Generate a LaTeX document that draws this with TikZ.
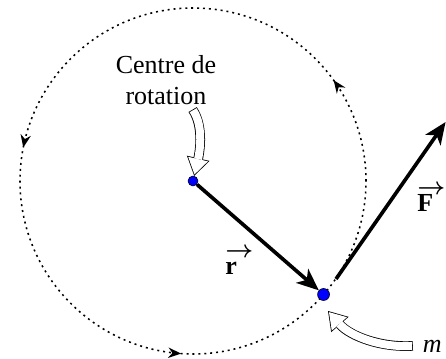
\documentclass[tikz,border=0pt]{standalone}
\usepackage{fontspec}
\setmainfont{Liberation Serif}
\usepackage{tikz}
\usetikzlibrary{arrows.meta, decorations.markings}

\newcommand{\vecbf}[1]{\rlap{\raisebox{0.66em}{\boldmath$\rightarrow$}}\textbf{#1}}

\begin{document}
\begin{tikzpicture}[font=\fontsize{18.5}{22}\selectfont,
    dot/.style={circle, draw=black, line width=0.4pt, fill=blue, inner sep=0pt, minimum size=2.5mm},
    vec/.style={line width=2.6pt, -{Stealth[length=5.5mm, width=4.6mm, inset=1.5mm]}},
    holout/.style={line width=2.4mm, -{Triangle[length=4.5mm, width=5.8mm, line width=0pt]}},
    holin/.style={white, line width=2mm, shorten <=0.2mm, shorten >=0.37mm,
      -{Triangle[length=3.93mm, width=5.07mm, line width=0pt]}},
    orbit/.style={line width=1.1pt, dash pattern=on 1.4pt off 2.8pt},
    orbtip/.tip={Stealth[length=3.2mm, width=2.6mm]}]
  \useasboundingbox (0,0) rectangle (11.15,8.95);
  % trajectoire
  \draw[orbit, postaction={decorate}, decoration={markings,
      mark=at position 0.099 with {\arrow{orbtip}},
      mark=at position 0.469 with {\arrow{orbtip}},
      mark=at position 0.739 with {\arrow{orbtip}}}]
    (4.825,4.425) circle (4.325);
  \node[dot] (ctr) at (4.825,4.425) {};
  \node[dot, minimum size=3mm] (mass) at (8.089,1.588) {};
  \node[align=center] (lbl) at (4.15,6.95) {Centre de\\rotation};
  \node[anchor=base west, inner sep=0pt] (rlbl) at (5.625,2.075) {\vecbf{r}};
  \node[anchor=base west, inner sep=0pt] (Flbl) at (10.425,3.65) {\vecbf{F}};
  \node[anchor=base west, inner ysep=2pt, inner xsep=7pt] (mlbl) at (10.32,0.15) {\textit{m}};
  \coordinate (Fs) at (8.4,1.975);
  \coordinate (Fe) at (11.14,5.9);
  \coordinate (mtip) at (8.2,1.175);
  % vecteurs
  \draw[vec] (ctr) -- (mass);
  \draw[vec] (Fs) -- (Fe);
  % fleches creuses
  \foreach \st in {holout,holin}
    \draw[\st] (lbl.-48) .. controls +(0.3,-0.45) and +(0.15,0.65) .. (ctr);
  \foreach \st in {holout,holin}
    \draw[\st] (mlbl.west) .. controls +(-0.8,-0.05) and +(0.55,-0.625) .. (mtip);
\end{tikzpicture}
\end{document}
